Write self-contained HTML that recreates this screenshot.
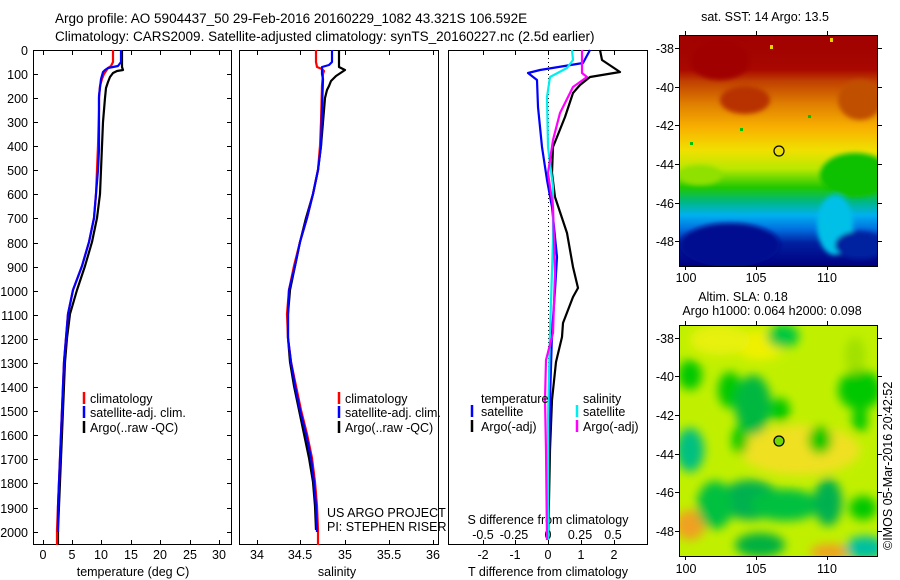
<!DOCTYPE html>
<html><head><meta charset="utf-8"><style>
body{margin:0;background:#fff;overflow:hidden;}
svg{display:block;font-family:"Liberation Sans",sans-serif;}
</style></head><body>
<svg width="900" height="580" viewBox="0 0 900 580" xmlns="http://www.w3.org/2000/svg">
<defs>
<linearGradient id="sst" x1="0" y1="35" x2="0" y2="266" gradientUnits="userSpaceOnUse">
<stop offset="0" stop-color="#a00000"/>
<stop offset="0.15" stop-color="#a80800"/>
<stop offset="0.2" stop-color="#c04000"/>
<stop offset="0.3" stop-color="#e08000"/>
<stop offset="0.4" stop-color="#f8b000"/>
<stop offset="0.5" stop-color="#f0e000"/>
<stop offset="0.58" stop-color="#b8e800"/>
<stop offset="0.66" stop-color="#20c800"/>
<stop offset="0.72" stop-color="#00b880"/>
<stop offset="0.78" stop-color="#00b0f0"/>
<stop offset="0.84" stop-color="#0070e0"/>
<stop offset="0.9" stop-color="#0020a0"/>
<stop offset="1" stop-color="#000080"/>
</linearGradient>
<filter id="bl"><feGaussianBlur stdDeviation="5"/></filter>
<filter id="bl2"><feGaussianBlur stdDeviation="2.5"/></filter>
<clipPath id="c1"><rect x="679" y="35" width="199" height="231"/></clipPath>
<clipPath id="c2"><rect x="679" y="325" width="199" height="231"/></clipPath>
</defs>

<g font-size="13.5" fill="#000">
<text x="55" y="23">Argo profile: AO 5904437_50 29-Feb-2016 20160229_1082 43.321S 106.592E</text>
<text x="55" y="41">Climatology: CARS2009. Satellite-adjusted climatology: synTS_20160227.nc (2.5d earlier)</text>
</g>

<g font-size="12.5" text-anchor="end">
<text x="28" y="55">0</text><text x="28" y="79">100</text><text x="28" y="103">200</text><text x="28" y="127">300</text><text x="28" y="151">400</text><text x="28" y="175">500</text><text x="28" y="199">600</text><text x="28" y="223">700</text><text x="28" y="248">800</text><text x="28" y="272">900</text><text x="28" y="296">1000</text><text x="28" y="320">1100</text><text x="28" y="344">1200</text><text x="28" y="368">1300</text><text x="28" y="392">1400</text><text x="28" y="416">1500</text><text x="28" y="440">1600</text><text x="28" y="464">1700</text><text x="28" y="488">1800</text><text x="28" y="513">1900</text><text x="28" y="537">2000</text>
</g>

<g fill="none" stroke="#000" stroke-width="1">
<rect x="33.5" y="50.5" width="198" height="494"/>
<rect x="239.5" y="50.5" width="199" height="494"/>
<rect x="448.5" y="50.5" width="199" height="494"/>
</g>
<g stroke="#000" stroke-width="1">
<path d="M33 74.5h5M33 98.5h5M33 122.5h5M33 146.5h5M33 170.5h5M33 194.5h5M33 218.5h5M33 243.5h5M33 267.5h5M33 291.5h5M33 315.5h5M33 339.5h5M33 363.5h5M33 387.5h5M33 411.5h5M33 435.5h5M33 459.5h5M33 483.5h5M33 508.5h5M33 532.5h5"/>
<path d="M232 74.5h-5M232 98.5h-5M232 122.5h-5M232 146.5h-5M232 170.5h-5M232 194.5h-5M232 218.5h-5M232 243.5h-5M232 267.5h-5M232 291.5h-5M232 315.5h-5M232 339.5h-5M232 363.5h-5M232 387.5h-5M232 411.5h-5M232 435.5h-5M232 459.5h-5M232 483.5h-5M232 508.5h-5M232 532.5h-5"/>
<path d="M43.5 50v5M72.5 50v5M101.5 50v5M131.5 50v5M160.5 50v5M190.5 50v5M219.5 50v5M43.5 545v-5M72.5 545v-5M101.5 545v-5M131.5 545v-5M160.5 545v-5M190.5 545v-5M219.5 545v-5"/>
<path d="M257.5 50v5M300.5 50v5M345.5 50v5M389.5 50v5M433.5 50v5M257.5 545v-5M300.5 545v-5M345.5 545v-5M389.5 545v-5M433.5 545v-5"/>
<path d="M483.5 50v5M515.5 50v5M548.5 50v5M581.5 50v5M614.5 50v5M483.5 545v-5M515.5 545v-5M548.5 545v-5M581.5 545v-5M614.5 545v-5"/>
</g>
<g font-size="12.5" text-anchor="middle">
<text x="43" y="559">0</text><text x="72" y="559">5</text><text x="101" y="559">10</text><text x="131" y="559">15</text><text x="160" y="559">20</text><text x="190" y="559">25</text><text x="219" y="559">30</text>
<text x="133" y="576">temperature (deg C)</text>
<text x="257" y="559">34</text><text x="300" y="559">34.5</text><text x="345" y="559">35</text><text x="389" y="559">35.5</text><text x="433" y="559">36</text>
<text x="337" y="576">salinity</text>
<text x="483" y="559">-2</text><text x="515" y="559">-1</text><text x="548" y="559">0</text><text x="581" y="559">1</text><text x="614" y="559">2</text>
<text x="548" y="576">T difference from climatology</text>
<text x="548" y="524">S difference from climatology</text>
<text x="483" y="539">-0.5</text><text x="514" y="539">-0.25</text><text x="548" y="539">0</text><text x="580" y="539">0.25</text><text x="613" y="539">0.5</text>
</g>

<!-- panel 1 profiles -->
<g fill="none" stroke-width="2.2" stroke-linejoin="round">
<polyline stroke="#000" points="122,50 122,67 123,70 117,71 113,73 110,77 108,82 106,88 105,98 104,110 103,122 102,146 101,170 100,194 97,218 92,242 85,266 77,290 70,314 67,338 65,362 64,386 63,410 62,434 61,458 60,482 59,506 58,530 58,545"/>
<polyline stroke="#f00" points="113,50 113,62 111,66 108,68 106,71 104,74 102,79 100,86 99,98 99,110 98,146 97,170 96,194 94,218 89,242 82,266 73,290 68,314 66,338 64,362 63,386 62,410 61,434 60,458 59,482 58,506 57,530 57,545"/>
<polyline stroke="#00f" points="121,50 121,62 118,66 108,68 105,70 103,72 101,79 99,96 99,150 98,170 96,194 94,218 89,242 82,266 73,290 68,314 66,338 64,362 63,386 62,410 61,434 60,458 59,482 58,506 58,532"/>
</g>
<g stroke-width="2.5"><line x1="84" y1="392" x2="84" y2="404" stroke="#f00"/><line x1="84" y1="406" x2="84" y2="418" stroke="#00f"/><line x1="84" y1="421" x2="84" y2="433" stroke="#000"/></g>
<g font-size="12.5"><text x="90" y="403">climatology</text><text x="90" y="417">satellite-adj. clim.</text><text x="90" y="432">Argo(..raw -QC)</text></g>

<!-- panel 2 profiles -->
<g fill="none" stroke-width="2.2" stroke-linejoin="round">
<polyline stroke="#000" points="339,50 339,67 345,70 342,72 336,76 331,81 329,86 327,90 325,98 323,122 321,146 318,170 313,194 306,218 300,242 295,266 290,290 288,314 288,338 290,362 294,386 299,410 304,434 309,458 313,482 315,506 316,530"/>
<polyline stroke="#f00" points="316,50 316,62 317,67 322,69 324,71 323,74 322,86 321,122 320,146 318,170 313,194 307,218 300,242 294,266 289,290 287,314 288,338 291,362 296,386 301,410 307,434 312,458 315,482 317,506 318,530 318,545"/>
<polyline stroke="#00f" points="332,50 332,62 329,65 322,67 322,74 323,79 322,110 321,146 318,170 313,194 307,218 300,242 295,266 289,290 288,314 288,338 291,362 295,386 300,410 306,434 311,458 314,482 316,506 317,532"/>
</g>
<g stroke-width="2.5"><line x1="339" y1="392" x2="339" y2="404" stroke="#f00"/><line x1="339" y1="406" x2="339" y2="418" stroke="#00f"/><line x1="339" y1="421" x2="339" y2="433" stroke="#000"/></g>
<g font-size="12.5"><text x="345" y="403">climatology</text><text x="345" y="417">satellite-adj. clim.</text><text x="345" y="432">Argo(..raw -QC)</text>
<text x="327" y="517">US ARGO PROJECT</text><text x="327" y="531">PI: STEPHEN RISER</text></g>

<!-- panel 3 -->
<line x1="548.5" y1="50" x2="548.5" y2="545" stroke="#000" stroke-dasharray="1,3"/>
<g fill="none" stroke-width="2.2" stroke-linejoin="round">
<polyline stroke="#000" points="600,50 602,60 620,72 590,77 580,85 573,93 565,117 553,147 552,173 555,197 567,233 573,267 578,288 573,297 563,323 562,337 556,362 552,400 550,450 549,500 548,540"/>
<polyline stroke="#00f" points="590,50 583,63 540,70 528,73 537,80 538,107 542,147 547,180 552,207 557,257 555,290 552,333 550,400 549,460 548,540"/>
<polyline stroke="#0ee" points="572,50 573,60 567,68 550,77 547,97 548,147 553,187 553,240 550,333 548,420 548,540"/>
<polyline stroke="#f0f" points="582,50 582,73 587,77 573,87 560,113 553,140 548,173 553,207 555,273 553,333 546,360 545,400 546,450 547,540"/>
</g>
<g stroke-width="2.5"><line x1="472" y1="405" x2="472" y2="417" stroke="#00f"/><line x1="472" y1="420" x2="472" y2="432" stroke="#000"/><line x1="577" y1="405" x2="577" y2="417" stroke="#0ee"/><line x1="577" y1="420" x2="577" y2="432" stroke="#f0f"/></g>
<g font-size="12.5"><text x="481" y="403">temperature</text><text x="481" y="416">satellite</text><text x="481" y="431">Argo(-adj)</text>
<text x="583" y="403">salinity</text><text x="583" y="416">satellite</text><text x="583" y="431">Argo(-adj)</text></g>

<!-- map 1 -->
<g clip-path="url(#c1)">
<rect x="679" y="35" width="199" height="231" fill="url(#sst)"/>
<g filter="url(#bl2)">
<ellipse cx="720" cy="60" rx="30" ry="20" fill="#a00000"/>
<ellipse cx="745" cy="100" rx="25" ry="14" fill="#b83000"/>
<ellipse cx="860" cy="100" rx="22" ry="20" fill="#c05000"/>
<ellipse cx="855" cy="175" rx="35" ry="22" fill="#10c000"/>
<ellipse cx="835" cy="225" rx="18" ry="30" fill="#00c0e8"/>
<ellipse cx="700" cy="175" rx="22" ry="10" fill="#90e000"/>
<ellipse cx="730" cy="245" rx="50" ry="22" fill="#000a90"/>
<ellipse cx="860" cy="245" rx="25" ry="14" fill="#0020a0"/>
</g>
<g fill="#00c000"><rect x="770" y="45" width="3" height="4" fill="#f0d000"/><rect x="830" y="38" width="3" height="4" fill="#f0d000"/><rect x="690" y="142" width="3" height="3"/><rect x="740" y="128" width="3" height="3"/><rect x="808" y="115" width="3" height="3"/></g>
</g>
<rect x="679.5" y="35.5" width="198" height="231" fill="none" stroke="#000"/>
<circle cx="779" cy="151" r="5" fill="none" stroke="#000" stroke-width="1.2"/>
<!-- map 2 -->
<g clip-path="url(#c2)">
<rect x="679" y="325" width="199" height="231" fill="#c0f000"/>
<g filter="url(#bl)">
<ellipse cx="800" cy="450" rx="60" ry="25" fill="#f0e020"/>
<ellipse cx="690" cy="525" rx="15" ry="15" fill="#f0a020"/>
<ellipse cx="830" cy="552" rx="20" ry="8" fill="#f0a020"/>
<ellipse cx="760" cy="345" rx="25" ry="15" fill="#f0f000"/>
<ellipse cx="720" cy="340" rx="30" ry="15" fill="#e8f010"/>
<ellipse cx="783" cy="336" rx="16" ry="12" fill="#00c840"/>
<ellipse cx="730" cy="390" rx="12" ry="18" fill="#00c800"/>
<ellipse cx="690" cy="375" rx="12" ry="15" fill="#00c800"/>
<ellipse cx="753" cy="405" rx="18" ry="30" fill="#00b840"/>
<ellipse cx="780" cy="410" rx="10" ry="12" fill="#00c800"/>
<ellipse cx="690" cy="450" rx="14" ry="22" fill="#00c080"/>
<ellipse cx="740" cy="440" rx="8" ry="14" fill="#00c800"/>
<ellipse cx="860" cy="390" rx="22" ry="20" fill="#00c800"/>
<ellipse cx="820" cy="440" rx="12" ry="14" fill="#00c800"/>
<ellipse cx="860" cy="420" rx="8" ry="12" fill="#00c800"/>
<ellipse cx="750" cy="500" rx="30" ry="20" fill="#00b050"/>
<ellipse cx="785" cy="505" rx="35" ry="16" fill="#00c040"/>
<ellipse cx="715" cy="505" rx="18" ry="24" fill="#00c040"/>
<ellipse cx="828" cy="502" rx="14" ry="24" fill="#00b050"/>
<ellipse cx="863" cy="508" rx="14" ry="12" fill="#00c800"/>
<ellipse cx="760" cy="545" rx="25" ry="12" fill="#00b040"/>
<ellipse cx="865" cy="548" rx="20" ry="12" fill="#00c0a0"/>
<ellipse cx="855" cy="355" rx="10" ry="18" fill="#a0e000"/>
</g>
</g>
<rect x="679.5" y="325.5" width="198" height="231" fill="none" stroke="#000"/>
<circle cx="779" cy="441" r="5" fill="#70d800" stroke="#000" stroke-width="1.2"/>
<g stroke="#000">
<path d="M685.5 31v4M756.5 31v4M827.5 31v4M685.5 266v4M756.5 266v4M827.5 266v4M675 48.5h4M675 87.5h4M675 125.5h4M675 164.5h4M675 203.5h4M675 241.5h4M878 48.5h4M878 87.5h4M878 125.5h4M878 164.5h4M878 203.5h4M878 241.5h4"/>
<path d="M685.5 321v4M756.5 321v4M827.5 321v4M685.5 556v4M756.5 556v4M827.5 556v4M675 338.5h4M675 376.5h4M675 415.5h4M675 454.5h4M675 492.5h4M675 531.5h4M878 338.5h4M878 376.5h4M878 415.5h4M878 454.5h4M878 492.5h4M878 531.5h4"/>
</g>
<g font-size="12.5">
<text x="765" y="21" text-anchor="middle">sat. SST: 14 Argo: 13.5</text>
<g text-anchor="end"><text x="674" y="53">-38</text><text x="674" y="92">-40</text><text x="674" y="130">-42</text><text x="674" y="169">-44</text><text x="674" y="208">-46</text><text x="674" y="246">-48</text>
<text x="674" y="343">-38</text><text x="674" y="381">-40</text><text x="674" y="420">-42</text><text x="674" y="459">-44</text><text x="674" y="497">-46</text><text x="674" y="536">-48</text></g>
<g text-anchor="middle"><text x="686" y="282">100</text><text x="756" y="282">105</text><text x="827" y="282">110</text>
<text x="686" y="573">100</text><text x="756" y="573">105</text><text x="827" y="573">110</text>
<text x="743" y="301">Altim. SLA: 0.18</text><text x="772" y="315">Argo h1000: 0.064 h2000: 0.098</text></g>
<text transform="translate(892,550) rotate(-90)">©IMOS 05-Mar-2016 20:42:52</text>
</g>
</svg>
</body></html>
